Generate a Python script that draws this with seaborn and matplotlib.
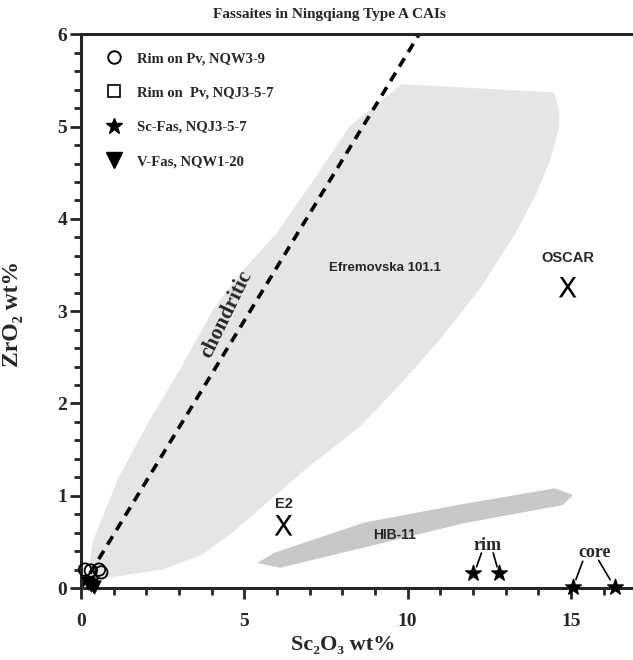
import matplotlib
matplotlib.use('Agg')
import matplotlib.pyplot as plt
from matplotlib.lines import Line2D
from matplotlib.ticker import MultipleLocator
import seaborn as sns

# Efremovska 101.1 field (Sc2O3, ZrO2 wt%)
efre_x = [0.2, 0.35, 1.15, 2.1, 2.9, 4.05, 4.9, 6.0, 7.06, 8.22, 9.81,
          14.48, 14.64, 14.64, 14.37, 13.95, 13.31, 12.25, 10.98, 9.81,
          8.54, 6.85, 4.7, 3.7, 2.5, 1.0, 0.2]
efre_y = [0.08, 0.5, 1.2, 1.82, 2.29, 3.02, 3.42, 3.85, 4.39, 5.0, 5.46,
          5.37, 5.18, 5.0, 4.64, 4.28, 3.85, 3.26, 2.69, 2.22,
          1.75, 1.28, 0.62, 0.36, 0.2, 0.12, 0.08]

# HIB-11 field
hib_x = [5.4, 5.9, 8.67, 11.69, 14.5, 15.06, 14.76, 11.69, 8.67, 6.1, 5.4]
hib_y = [0.27, 0.38, 0.71, 0.91, 1.08, 1.01, 0.90, 0.70, 0.44, 0.22, 0.27]

# chondritic ratio line
chond_x = [0.0, 10.35]
chond_y = [0.0, 6.0]

# Ningqiang fassaites
rim_nqw_x = [0.12, 0.3, 0.55, 0.62]
rim_nqw_y = [0.2, 0.19, 0.2, 0.17]
scfas_x = [12.0, 12.8, 15.05, 16.35]
scfas_y = [0.16, 0.16, 0.01, 0.01]
vfas_x = [0.22, 0.3, 0.4]
vfas_y = [0.05, 0.03, 0.01]

# reference CAIs
ref_names = ['OSCAR', 'E2']
ref_x = [14.9, 6.2]
ref_y = [3.26, 0.68]

sns.set_style('ticks')
plt.rcParams['font.family'] = ['Liberation Serif', 'DejaVu Serif']

fig = plt.figure(figsize=(6.33, 6.6), dpi=100)
ax = fig.add_axes([0.128, 0.109, 0.872, 0.839])

ax.fill(efre_x, efre_y, color='#e5e5e5', lw=0, zorder=1)
ax.fill(hib_x, hib_y, color='#c8c8c8', lw=0, zorder=1)

sns.lineplot(x=chond_x, y=chond_y, ax=ax, color='black', lw=2.6,
             linestyle=(0, (2.7, 2.0)), zorder=2)

sns.scatterplot(x=rim_nqw_x, y=rim_nqw_y, ax=ax, marker='o', s=80,
                facecolor='none', edgecolor='black', linewidth=1.3,
                zorder=5, clip_on=False)
sns.scatterplot(x=scfas_x, y=scfas_y, ax=ax, marker='*', s=140,
                color='black', edgecolor='black', zorder=5, clip_on=False)
sns.scatterplot(x=vfas_x, y=vfas_y, ax=ax, marker='v', s=90,
                color='black', edgecolor='black', zorder=5, clip_on=False)
sns.scatterplot(x=ref_x, y=ref_y, ax=ax, marker=r'$\mathsf{X}$', s=220,
                color='black', edgecolor='none', zorder=5)

sans = ['Liberation Sans', 'DejaVu Sans']
for name, x, y, dy in zip(ref_names, ref_x, ref_y, [0.24, 0.15]):
    ax.text(x, y + dy, name, family=sans, fontsize=10.5, weight='bold',
            ha='center', va='bottom')
ax.text(9.3, 3.47, 'Efremovska 101.1', family=sans, fontsize=9.5,
        weight='bold', ha='center', va='center')
ax.text(9.6, 0.58, 'HIB-11', family=sans, fontsize=10, weight='bold',
        ha='center', va='center')
ax.text(4.45, 2.97, 'chondritic', fontsize=15.5, weight='bold',
        rotation=64, ha='center', va='center')

# rim / core labels with leader lines
ax.text(12.45, 0.46, 'rim', fontsize=13, weight='bold', ha='center', va='center')
ax.text(15.72, 0.38, 'core', fontsize=13, weight='bold', ha='center', va='center')
for (x0, y0, x1, y1) in [(12.26, 0.38, 12.11, 0.23), (12.62, 0.38, 12.74, 0.23),
                         (15.36, 0.29, 15.15, 0.09), (15.85, 0.30, 16.2, 0.09)]:
    ax.plot([x0, x1], [y0, y1], color='black', lw=1.2)

ax.set_xlim(0, 16.9)
ax.set_ylim(0, 6)
ax.xaxis.set_major_locator(MultipleLocator(5))
ax.xaxis.set_minor_locator(MultipleLocator(1))
ax.yaxis.set_major_locator(MultipleLocator(1))
ax.yaxis.set_minor_locator(MultipleLocator(0.2))
ax.tick_params(which='major', direction='out', length=8, width=2,
               labelsize=14, pad=4)
ax.tick_params(which='minor', direction='out', length=5, width=2)
for lab in ax.get_xticklabels() + ax.get_yticklabels():
    lab.set_fontweight('bold')
ax.tick_params(axis='x', pad=10)
ax.tick_params(axis='y', pad=2)

for side in ['left', 'bottom', 'top']:
    ax.spines[side].set_linewidth(2.2)
ax.spines['right'].set_visible(False)

ax.set_xlabel('Sc₂O₃ wt%', fontsize=16, weight='bold')
ax.xaxis.set_label_coords(0.475, -0.085)
ax.set_ylabel('ZrO₂ wt%', fontsize=17, weight='bold')
ax.yaxis.set_label_coords(-0.105, 0.495)
fig.text(0.52, 0.978, 'Fassaites in Ningqiang Type A CAIs', fontsize=11,
         weight='bold', ha='center', va='center')

handles = [
    Line2D([], [], ls='none', marker='o', ms=9, mfc='none', mec='black', mew=1.4),
    Line2D([], [], ls='none', marker='s', ms=8, mfc='none', mec='black', mew=1.2),
    Line2D([], [], ls='none', marker='*', ms=12, color='black'),
    Line2D([], [], ls='none', marker='v', ms=11, color='black'),
]
labels = ['Rim on Pv, NQW3-9', 'Rim on  Pv, NQJ3-5-7',
          'Sc-Fas, NQJ3-5-7', 'V-Fas, NQW1-20']
ax.legend(handles, labels, loc='upper left', bbox_to_anchor=(0.02, 0.992),
          frameon=False, prop={'weight': 'bold', 'size': 10.5},
          labelspacing=1.45, handletextpad=1.0, handlelength=1.2)

fig.savefig('out.png', dpi=100)
